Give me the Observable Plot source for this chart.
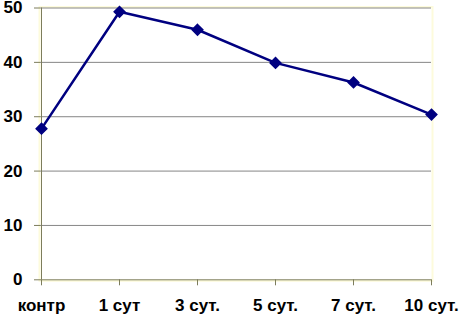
<!DOCTYPE html>
<html>
<head>
<meta charset="utf-8">
<script src="https://cdn.jsdelivr.net/npm/d3@7"></script>
<script src="https://cdn.jsdelivr.net/npm/@observablehq/plot@0.6"></script>
<style>
  html, body { margin: 0; padding: 0; background: #fff; }
  svg { display: block; }
</style>
</head>
<body>
<div id="chart"></div>
<script>
const categories = ["контр", "1 сут", "3 сут.", "5 сут.", "7 сут.", "10 сут."];
const values = [27.8, 49.3, 46.0, 39.9, 36.3, 30.4];
const yTicks = [0, 10, 20, 30, 40, 50];
const gridValues = [10, 20, 30, 40, 50];

const data = categories.map((c, i) => ({cat: c, v: values[i]}));

const chart = Plot.plot({
  width: 459,
  height: 317,
  marginLeft: 40,
  marginRight: 28,
  marginTop: 7.5,
  marginBottom: 37.7,
  style: {fontFamily: "'Liberation Sans', Arial, sans-serif", fontSize: "17px", fontWeight: "bold", color: "#000", background: "#fff"},
  x: {type: "point", domain: categories, padding: 0},
  y: {domain: [0, 50]},
  marks: [
    Plot.frame({stroke: "#fdfbdc", strokeWidth: 2, inset: -1}),
    Plot.ruleY(gridValues, {stroke: "#868686", strokeWidth: 1}),
    Plot.axisY({ticks: yTicks, tickSize: 6, tickPadding: 12, stroke: "#7d7d5c", strokeOpacity: 1, fill: "#000", fontWeight: "bold", fontSize: 17, label: null}),
    Plot.axisX({tickSize: 6, tickPadding: 13, stroke: "#7d7d5c", strokeOpacity: 1, fill: "#000", fontWeight: "bold", fontSize: 17, label: null}),
    Plot.ruleY([0], {stroke: "#7d7d5c", strokeWidth: 1}),
    Plot.ruleX([categories[0]], {stroke: "#7d7d5c", strokeWidth: 1}),
    Plot.line(data, {x: "cat", y: "v", stroke: "#000080", strokeWidth: 2.5}),
    Plot.dot(data, {x: "cat", y: "v", symbol: "diamond2", r: 4.8, fill: "#000080", stroke: "#000080"})
  ]
});
document.getElementById("chart").appendChild(chart);
</script>
</body>
</html>
